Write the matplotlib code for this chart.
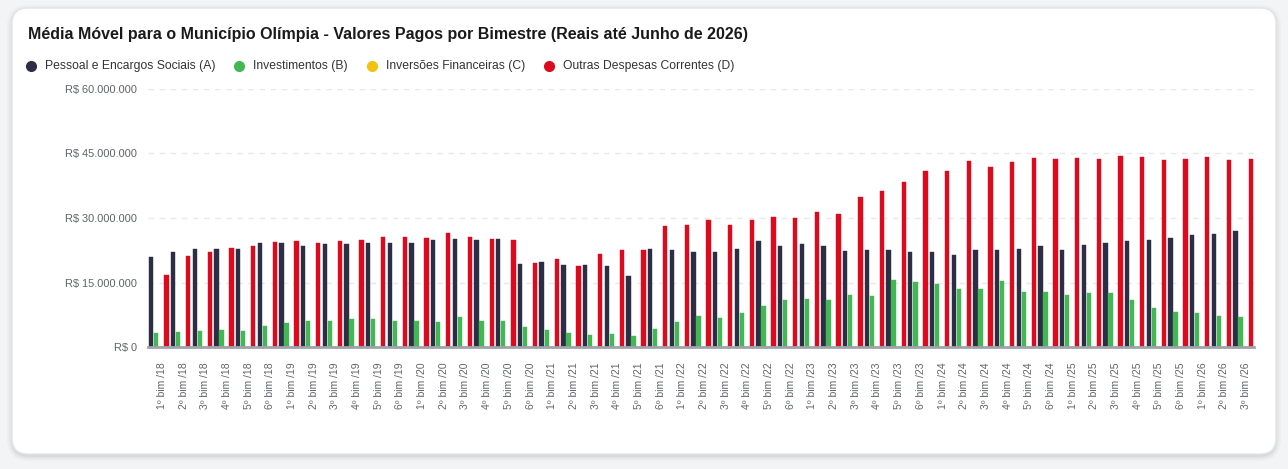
import numpy as np
import matplotlib
matplotlib.use("Agg")
import matplotlib.pyplot as plt
from matplotlib.patches import FancyBboxPatch
from matplotlib.lines import Line2D
import matplotlib.transforms as mtransforms

plt.rcParams['font.family'] = ['Liberation Sans', 'DejaVu Sans']

title = "Média Móvel para o Município Olímpia - Valores Pagos por Bimestre (Reais até Junho de 2026)"

categories = [
    "1º bim /18", "2º bim /18", "3º bim /18", "4º bim /18", "5º bim /18", "6º bim /18",
    "1º bim /19", "2º bim /19", "3º bim /19", "4º bim /19", "5º bim /19", "6º bim /19",
    "1º bim /20", "2º bim /20", "3º bim /20", "4º bim /20", "5º bim /20", "6º bim /20",
    "1º bim /21", "2º bim /21", "3º bim /21", "4º bim /21", "5º bim /21", "6º bim /21",
    "1º bim /22", "2º bim /22", "3º bim /22", "4º bim /22", "5º bim /22", "6º bim /22",
    "1º bim /23", "2º bim /23", "3º bim /23", "4º bim /23", "5º bim /23", "6º bim /23",
    "1º bim /24", "2º bim /24", "3º bim /24", "4º bim /24", "5º bim /24", "6º bim /24",
    "1º bim /25", "2º bim /25", "3º bim /25", "4º bim /25", "5º bim /25", "6º bim /25",
    "1º bim /26", "2º bim /26", "3º bim /26",
]

# values in millions of R$
pessoal_A = [20.9, 22.2, 22.8, 22.8, 22.9, 24.2,
             24.1, 23.6, 24.0, 24.0, 24.3, 24.3,
             24.1, 25.0, 25.1, 25.0, 25.1, 19.3,
             19.8, 19.1, 19.0, 18.8, 16.6, 22.9,
             22.6, 22.2, 22.2, 22.7, 24.6, 23.4,
             24.0, 23.6, 22.4, 22.6, 22.6, 22.0,
             22.2, 21.4, 22.6, 22.6, 22.9, 23.4,
             22.5, 23.7, 24.2, 24.7, 25.0, 25.3,
             26.0, 26.2, 26.9]
investimentos_B = [3.3, 3.4, 3.7, 3.9, 3.8, 5.0,
                   5.6, 6.0, 6.0, 6.4, 6.6, 6.1,
                   6.1, 5.7, 7.0, 6.1, 6.1, 4.7,
                   4.0, 3.3, 2.8, 3.0, 2.6, 4.1,
                   5.7, 7.3, 6.7, 7.9, 9.5, 10.9,
                   11.2, 11.0, 12.1, 11.9, 15.5, 15.2,
                   14.6, 13.6, 13.5, 15.3, 12.9, 12.7,
                   12.1, 12.6, 12.5, 10.9, 9.1, 8.1,
                   7.9, 7.2, 7.0]
inversoes_C = [0.0] * 51
outras_D = [16.8, 21.1, 22.2, 23.1, 23.4, 24.4,
            24.6, 24.3, 24.7, 25.0, 25.5, 25.6,
            25.3, 26.5, 25.6, 25.2, 25.0, 19.6,
            20.5, 18.8, 21.6, 22.5, 22.5, 28.1,
            28.4, 29.5, 28.4, 29.5, 30.2, 30.1,
            31.4, 31.0, 34.9, 36.3, 38.4, 41.0,
            40.9, 43.3, 41.8, 43.1, 44.0, 43.7,
            44.0, 43.8, 44.5, 44.3, 43.6, 43.7,
            44.3, 43.4, 43.8]

series_names = ["Pessoal e Encargos Sociais (A)", "Investimentos (B)",
                "Inversões Financeiras (C)", "Outras Despesas Correntes (D)"]
series_colors = ["#2b2e45", "#43b753", "#f2c211", "#dd0a1d"]

y_ticks = [0, 15, 30, 45, 60]
y_tick_labels = ["R$ 0", "R$ 15.000.000", "R$ 30.000.000", "R$ 45.000.000", "R$ 60.000.000"]

W, H = 1288, 469
fig = plt.figure(figsize=(W / 100, H / 100), dpi=100)
fig.patch.set_facecolor("#f3f4f6")

# background / card layer in pixel coordinates
bg = fig.add_axes([0, 0, 1, 1])
bg.set_xlim(0, W)
bg.set_ylim(H, 0)
bg.axis("off")
for pad, alpha in [(6, 0.025), (4, 0.035), (2, 0.05)]:
    bg.add_patch(FancyBboxPatch((12 - pad + 1, 8 - pad + 3), 1264 + 2 * pad - 2, 446 + 2 * pad - 2,
                                boxstyle="round,pad=0,rounding_size=%d" % (16 + pad),
                                facecolor="#000000", edgecolor="none", alpha=alpha, zorder=0))
bg.add_patch(FancyBboxPatch((12, 8), 1264, 446, boxstyle="round,pad=0,rounding_size=16",
                            facecolor="white", edgecolor="#e3e5e8", linewidth=1, zorder=1))

# main axes
x0, x1, ytop, ybot = 148, 1254, 89, 347
ax = fig.add_axes([x0 / W, 1 - ybot / H, (x1 - x0) / W, (ybot - ytop) / H])
ax.set_facecolor("none")
n = len(categories)
x = np.arange(n)
slot = 0.232
bw = 0.2
data = [pessoal_A, investimentos_B, inversoes_C, outras_D]
for k, (vals, col) in enumerate(zip(data, series_colors)):
    ax.bar(x + (k - 1.5) * slot, vals, width=bw, color=col, zorder=3,
           edgecolor=col, linewidth=0.3, joinstyle="round")

ax.set_xlim(-0.5, n - 0.5)
ax.set_ylim(0, 60)
ax.set_yticks(y_ticks)
ax.set_yticklabels(y_tick_labels)
for yv in y_ticks[1:]:
    ax.axhline(yv, color="#e6e8eb", linewidth=1, linestyle=(0, (4, 4)), zorder=1)
for s in ["top", "right", "left"]:
    ax.spines[s].set_visible(False)
ax.spines["bottom"].set_color("#9fa3aa")
ax.spines["bottom"].set_linewidth(2)
ax.spines["bottom"].set_zorder(4)
ax.tick_params(axis="y", length=0, pad=8, labelsize=7.9, labelcolor="#5f6368")
ax.set_xticks(x)
ax.set_xticklabels(categories, rotation=90, fontsize=7.5, color="#5f6368")
ax.tick_params(axis="x", length=0, pad=11)
offset = mtransforms.ScaledTranslation(3 / 100, 0, fig.dpi_scale_trans)
for lbl in ax.get_xticklabels():
    lbl.set_transform(lbl.get_transform() + offset)

# title
fig.text(28 / W, 1 - 35 / H, title, fontsize=11.5, fontweight="bold", color="#1a1a1a",
         ha="left", va="center")

# legend (manual, chart.js style)
fig.canvas.draw()
renderer = fig.canvas.get_renderer()
cx = 31
ly = 66
for name, col in zip(series_names, series_colors):
    bg.add_line(Line2D([cx], [ly], marker="o", markersize=7, color=col, linestyle="none", zorder=5))
    t = bg.text(cx + 14, ly, name, fontsize=8.7, color="#333333", ha="left", va="center", zorder=5)
    bb = t.get_window_extent(renderer)
    cx = cx + 14 + bb.width + 24

fig.savefig("out.png", dpi=100, facecolor=fig.get_facecolor())
